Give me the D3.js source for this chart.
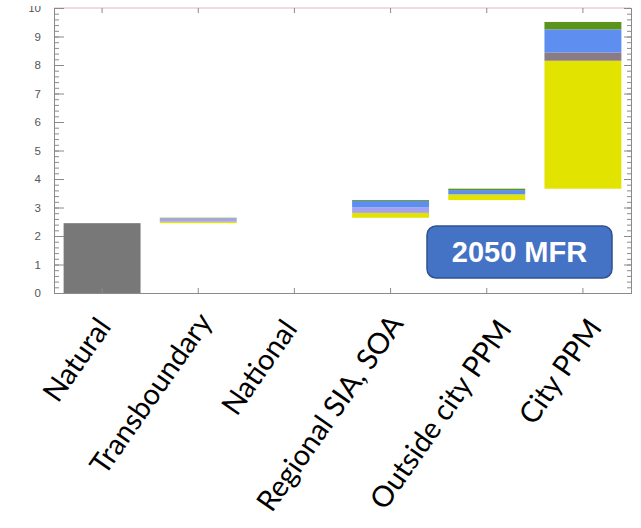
<!DOCTYPE html>
<html>
<head>
<meta charset="utf-8">
<script src="https://cdn.jsdelivr.net/npm/d3@7"></script>
<style>
  body { margin: 0; background: #fff; }
  svg { display: block; }
</style>
</head>
<body>
<div id="chart"></div>
<script>
const categories = ['Natural', 'Transboundary', 'National', 'Regional SIA, SOA', 'Outside city PPM', 'City PPM']
const natural = [2.45, 0, 0, 0, 0, 0]
const yellow = [0, 0.05, 0, 0.17, 0.20, 4.49]
const mauve = [0, 0, 0, 0, 0, 0.29]
const lavender = [0, 0.12, 0, 0.19, 0, 0]
const blue = [0, 0, 0, 0.23, 0.15, 0.81]
const green = [0, 0.02, 0, 0.03, 0.05, 0.26]
const yTicks = [0, 1, 2, 3, 4, 5, 6, 7, 8, 9, 10]
const badge = '2050 MFR'

const series = [
  { name: 'natural', values: natural, color: '#787878' },
  { name: 'yellow', values: yellow, color: '#e3e300' },
  { name: 'mauve', values: mauve, color: '#8a7b86' },
  { name: 'lavender', values: lavender, color: '#a6a2f0' },
  { name: 'blue', values: blue, color: '#5e8ef0' },
  { name: 'green', values: green, color: '#5b9419' },
]

const width = 641
const height = 528
const plot = { left: 54, right: 631, top: 8, bottom: 293 }
// hand placed slide text boxes don't sit exactly on the ticks
const labelNudge = [[-2, -2], [3, -7], [-8, 0], [2, -5], [14, 0], [8, -1]]

const svg = d3.select('#chart')
  .append('svg')
    .attr('width', width)
    .attr('height', height)

svg.append('defs')
  .append('clipPath')
    .attr('id', 'crop')
  .append('rect')
    .attr('x', 0)
    .attr('y', 6)
    .attr('width', width)
    .attr('height', 291)

const g = svg.append('g').attr('clip-path', 'url(#crop)')

const x = d3.scaleBand()
  .domain(categories)
  .range([plot.left, plot.right])
  .paddingInner(0.2)
  .paddingOuter(0.1)

const y = d3.scaleLinear()
  .domain([0, 10])
  .range([plot.bottom, plot.top])

// waterfall: every category starts where the previous ones ended
let running = 0
const segments = []
categories.forEach((cat, i) => {
  series.forEach(s => {
    const v = s.values[i]
    if (v > 0) segments.push({ cat, y0: running, y1: running + v, color: s.color })
    running += v
  })
})

g.selectAll('rect.seg')
  .data(segments)
  .enter()
  .append('rect')
    .attr('class', 'seg')
    .attr('x', d => x(d.cat))
    .attr('width', x.bandwidth())
    .attr('y', d => y(d.y1))
    .attr('height', d => y(d.y0) - y(d.y1))
    .attr('fill', d => d.color)

// frame
g.append('line')
  .attr('x1', plot.left).attr('x2', plot.right)
  .attr('y1', plot.top).attr('y2', plot.top)
  .attr('stroke', '#eab0c0')
  .attr('stroke-width', 1)

const axisStyle = sel => {
  sel.select('.domain').attr('stroke', '#8a8a8a')
  sel.selectAll('line').attr('stroke', '#8a8a8a')
  sel.selectAll('text')
    .attr('fill', '#555')
    .attr('font-family', 'Liberation Sans, Arial, sans-serif')
    .attr('font-size', 11.5)
}

// minor ticks
const minor = d3.range(0, 10.01, 0.2).map(v => +v.toFixed(1))

g.append('g')
  .attr('transform', `translate(${plot.left},0)`)
  .call(d3.axisLeft(y).tickValues(minor).tickSize(-5).tickFormat(''))
  .call(axisStyle)

g.append('g')
  .attr('transform', `translate(${plot.left},0)`)
  .call(d3.axisLeft(y).tickValues(yTicks).tickSize(-10).tickPadding(13).tickFormat(d3.format('d')))
  .call(axisStyle)

g.append('g')
  .attr('transform', `translate(${plot.right},0)`)
  .call(d3.axisRight(y).tickValues(minor).tickSize(-4).tickFormat(''))
  .call(axisStyle)

g.append('g')
  .attr('transform', `translate(${plot.right},0)`)
  .call(d3.axisRight(y).tickValues(yTicks).tickSize(-7).tickFormat(''))
  .call(axisStyle)

g.append('g')
  .attr('transform', `translate(0,${plot.bottom})`)
  .call(d3.axisBottom(x).tickSize(-5).tickFormat(''))
  .call(axisStyle)

g.append('g')
  .attr('transform', `translate(0,${plot.top})`)
  .call(d3.axisTop(x).tickSize(-5).tickFormat(''))
  .call(axisStyle)
  .select('.domain').remove()

// category labels
svg.selectAll('text.cat')
  .data(categories)
  .enter()
  .append('text')
    .attr('class', 'cat')
    .attr('transform', (d, i) => {
      const [dx, dy] = labelNudge[i]
      return `translate(${x(d) + x.bandwidth() / 2 + 12 + dx},${329 + dy}) rotate(-55)`
    })
    .attr('text-anchor', 'end')
    .attr('font-family', 'Lato, Carlito, Calibri, sans-serif')
    .attr('font-size', 29)
    .attr('fill', '#000')
    .text(d => d)

// badge
const box = svg.append('g')
box.append('rect')
  .attr('x', 427)
  .attr('y', 226)
  .attr('width', 185)
  .attr('height', 52)
  .attr('rx', 9)
  .attr('fill', '#4472c4')
  .attr('stroke', '#2f528f')
  .attr('stroke-width', 1.5)
box.append('text')
  .attr('x', 519.5)
  .attr('y', 262)
  .attr('text-anchor', 'middle')
  .attr('font-family', 'Liberation Sans, Arial, sans-serif')
  .attr('font-weight', 'bold')
  .attr('font-size', 29)
  .attr('fill', '#fff')
  .text(badge)
</script>
</body>
</html>
